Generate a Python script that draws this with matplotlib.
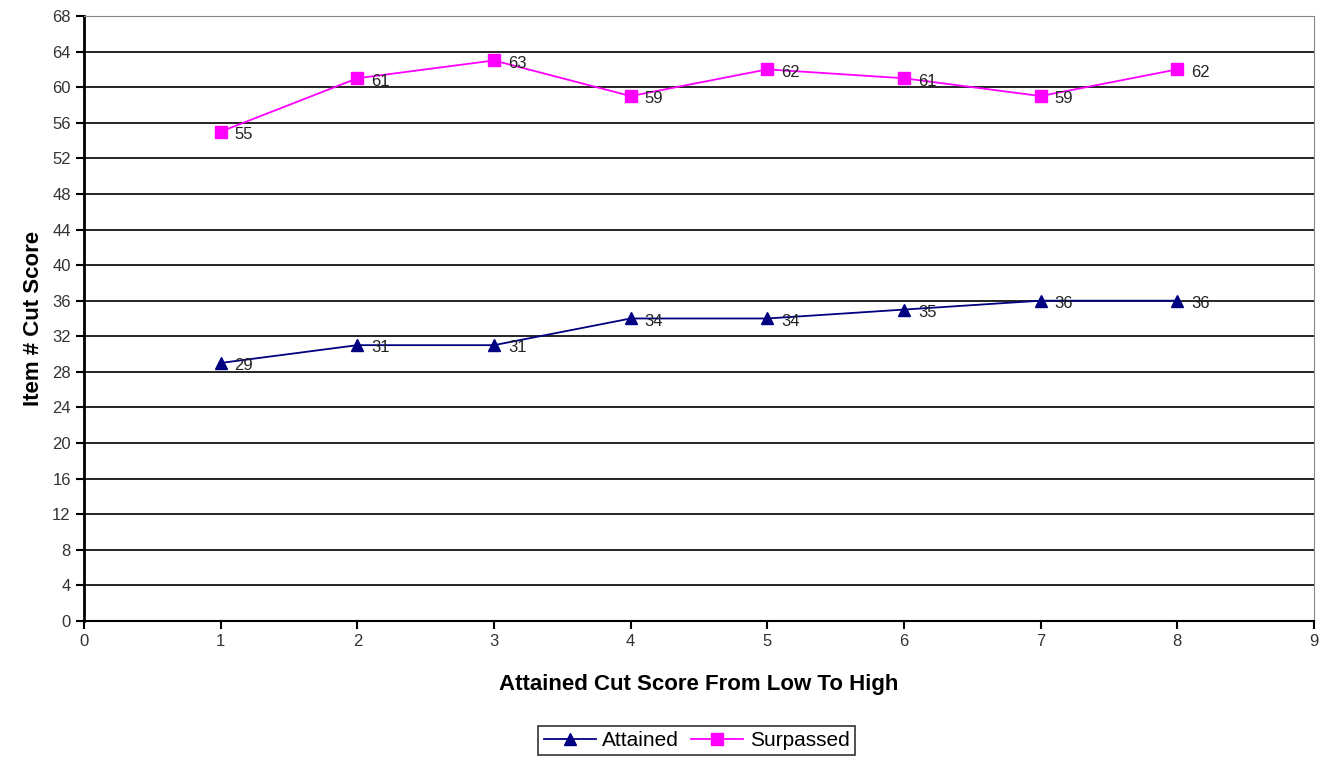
import numpy as np
import matplotlib.pyplot as plt

x = [1, 2, 3, 4, 5, 6, 7, 8]
attained = [29, 31, 31, 34, 34, 35, 36, 36]
surpassed = [55, 61, 63, 59, 62, 61, 59, 62]

plt.rcParams['font.family'] = ['Liberation Sans', 'DejaVu Sans']

fig = plt.figure(figsize=(13.23, 7.61), dpi=100)
ax = fig.add_axes([0.0635, 0.184, 0.9297, 0.795])

ax.plot(x, attained, color="#000080", marker="^", markersize=9, linewidth=1.3, label="Attained")
ax.plot(x, surpassed, color="#ff00ff", marker="s", markersize=8, linewidth=1.3, label="Surpassed")

for xi, yi in zip(x, attained):
    ax.annotate(str(yi), (xi, yi), xytext=(10, -2), textcoords="offset points",
                ha="left", va="center", fontsize=12, color="#222222")
for xi, yi in zip(x, surpassed):
    ax.annotate(str(yi), (xi, yi), xytext=(10, -2), textcoords="offset points",
                ha="left", va="center", fontsize=12, color="#222222")

ax.set_xlim(0, 9)
ax.set_ylim(0, 68)
ax.set_xticks(range(0, 10))
ax.set_yticks(range(0, 69, 4))
ax.yaxis.grid(True, color="black", linewidth=1.2)
ax.set_axisbelow(True)
ax.tick_params(direction="out", length=6, width=1.5, labelsize=12, colors="black")
for lbl in ax.get_xticklabels() + ax.get_yticklabels():
    lbl.set_color("#333333")
ax.spines["left"].set_linewidth(2)
ax.spines["bottom"].set_linewidth(1.5)
ax.spines["top"].set_color("#888888")
ax.spines["right"].set_color("#888888")

ax.set_xlabel("Attained Cut Score From Low To High", fontsize=16, fontweight="bold", labelpad=18)
ax.set_ylabel("Item # Cut Score", fontsize=16, fontweight="bold", labelpad=6)

leg = ax.legend(loc="center", bbox_to_anchor=(0.498, -0.198), ncol=2, fontsize=15,
                frameon=True, fancybox=False, edgecolor="black", handlelength=2.5,
                columnspacing=0.6, handletextpad=0.3, borderpad=0.25)
leg.get_frame().set_linewidth(1.2)

plt.savefig("out.png")
